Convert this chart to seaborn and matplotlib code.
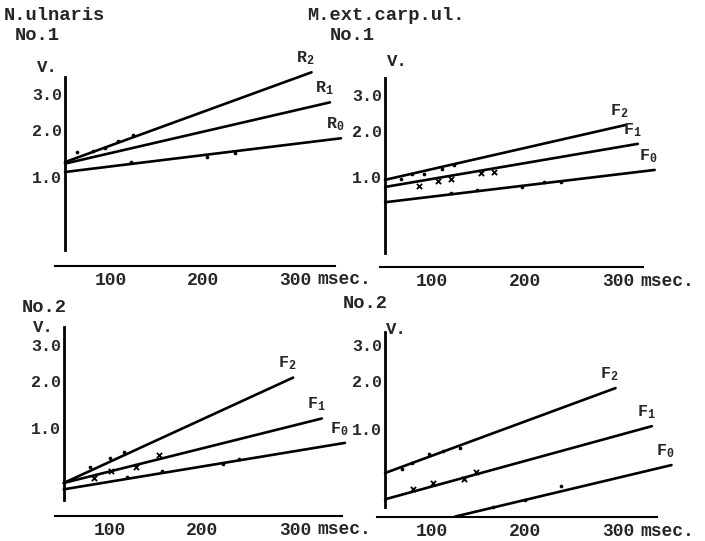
import numpy as np
import matplotlib
matplotlib.use("Agg")
import matplotlib.pyplot as plt
import seaborn as sns

# ---- data (msec, V) ----
# N.ulnaris No.1
ul1_labels = [r"R$_2$", r"R$_1$", r"R$_0$"]
ul1_line_t = [[50, 318], [50, 338], [50, 350]]
ul1_line_v = [[1.28, 3.70], [1.25, 2.75], [1.09, 1.80]]
ul1_pts_t = [63, 80, 93, 108, 124, 122, 204, 235]
ul1_pts_v = [1.50, 1.51, 1.58, 1.74, 1.88, 1.29, 1.39, 1.46]

# M.ext.carp.ul. No.1
ecu1_labels = [r"F$_2$", r"F$_1$", r"F$_0$"]
ecu1_line_t = [[50, 307], [50, 321], [50, 339]]
ecu1_line_v = [[0.95, 2.14], [0.83, 1.68], [0.60, 1.13]]
ecu1_f2_t = [67, 79, 92, 111, 124]
ecu1_f2_v = [0.96, 1.05, 1.05, 1.14, 1.23]
ecu1_f1_t = [86, 107, 121, 153, 167]
ecu1_f1_v = [0.85, 0.93, 0.97, 1.07, 1.10]
ecu1_f0_t = [121, 149, 197, 220, 239]
ecu1_f0_v = [0.73, 0.78, 0.83, 0.92, 0.91]

# N.ulnaris No.2
ul2_labels = [r"F$_2$", r"F$_1$", r"F$_0$"]
ul2_line_t = [[50, 298], [50, 329], [50, 354]]
ul2_line_v = [[0.27, 2.09], [0.27, 1.18], [0.215, 0.76]]
ul2_f2_t = [78, 100, 115]
ul2_f2_v = [0.43, 0.54, 0.62]
ul2_f1_t = [83, 101, 128, 153]
ul2_f1_v = [0.32, 0.39, 0.44, 0.585]
ul2_f0_t = [118, 156, 222, 239]
ul2_f0_v = [0.33, 0.39, 0.465, 0.53]

# M.ext.carp.ul. No.2
ecu2_labels = [r"F$_2$", r"F$_1$", r"F$_0$"]
ecu2_line_t = [[50, 297], [50, 336], [125, 357]]
ecu2_line_v = [[0.38, 1.84], [0.15, 1.05], [0.056, 0.47]]
ecu2_f2_t = [68, 79, 97, 112, 130]
ecu2_f2_v = [0.42, 0.50, 0.61, 0.66, 0.69]
ecu2_f1_t = [80, 101, 135, 148]
ecu2_f1_v = [0.23, 0.28, 0.32, 0.39]
ecu2_f0_t = [166, 200, 239]
ecu2_f0_v = [0.10, 0.146, 0.25]

x_ticks = [100, 200, 300]
y_ticks = [1, 2, 3]
y_ticklabels = ["1.0", "2.0", "3.0"]

# ---- style ----
sns.set_style("white")
plt.rcParams['font.family'] = ['Liberation Mono', 'DejaVu Sans']
plt.rcParams['font.weight'] = 'bold'
plt.rcParams['mathtext.default'] = 'regular'

W, H = 705, 541
fig = plt.figure(figsize=(W / 100, H / 100), dpi=100)
fig.patch.set_facecolor('white')

# pixel calibration of each hand-drawn panel (layout only)
layouts = [
    dict(x100=111, x300=295, y1=177, y3=94, xaxis=266, xl=55, xr=335, top=45, ytop=77, ybot=250),
    dict(x100=431.7, x300=618.3, y1=177, y3=95, xaxis=267, xl=380, xr=643, top=45, ytop=78, ybot=253),
    dict(x100=110, x300=295, y1=428.3, y3=345, xaxis=516, xl=55, xr=342, top=320, ytop=327, ybot=500),
    dict(x100=431.7, x300=618.3, y1=429, y3=345, xaxis=517, xl=377, xr=657, top=320, ytop=332, ybot=507),
]


def px2t(px, L):
    return 100 + (px - L['x100']) * 200 / (L['x300'] - L['x100'])


def px2v(py, L):
    k = (L['y1'] - L['y3']) / (np.sqrt(3) - 1)
    return (1 + (L['y1'] - py) / k) ** 2


def make_axes(L):
    ax = fig.add_axes([L['xl'] / W, 1 - L['xaxis'] / H,
                       (L['xr'] - L['xl']) / W, (L['xaxis'] - L['top']) / H])
    ax.set_yscale('function', functions=(np.sqrt, np.square))
    ax.set_xlim(px2t(L['xl'], L), px2t(L['xr'], L))
    ax.set_ylim(px2v(L['xaxis'], L), px2v(L['top'], L))
    ax.patch.set_alpha(0)
    for s in ['top', 'right']:
        ax.spines[s].set_visible(False)
    ax.spines['left'].set_position(('data', 50))
    ax.spines['left'].set_bounds(px2v(L['ybot'], L), px2v(L['ytop'], L))
    ax.spines['left'].set_linewidth(2.0)
    ax.spines['bottom'].set_linewidth(1.5)
    for s in ['left', 'bottom']:
        ax.spines[s].set_color('black')
    ax.set_xticks(x_ticks)
    ax.set_xticklabels([str(t) for t in x_ticks])
    ax.set_yticks(y_ticks)
    ax.set_yticklabels(y_ticklabels)
    ax.yaxis.set_minor_locator(matplotlib.ticker.NullLocator())
    ax.tick_params(axis='x', direction='in', length=3, width=1.5, pad=4, labelsize=13)
    ax.tick_params(axis='y', direction='in', length=4, width=1.5, pad=2, labelsize=12)
    ax.annotate('msec.', xy=(300, 0), xycoords=('data', 'axes fraction'),
                xytext=(22, -5.5), textcoords='offset pixels', ha='left', va='top',
                fontsize=13, fontweight='bold', annotation_clip=False)
    ax.grid(False)
    return ax


def draw_lines(ax, line_t, line_v, labels):
    for t, v, lab in zip(line_t, line_v, labels):
        sns.lineplot(x=t, y=v, ax=ax, color='black', linewidth=1.9, clip_on=False)
        ax.annotate(lab, xy=(t[1], v[1]), xytext=(-6, 14), textcoords='offset pixels',
                    ha='center', va='center', fontsize=12, fontweight='bold',
                    annotation_clip=False)


def dots(ax, t, v, marker='o'):
    if marker == 'x':
        sns.scatterplot(x=t, y=v, ax=ax, color='black', marker='x', s=14, linewidth=1.3)
    else:
        sns.scatterplot(x=t, y=v, ax=ax, color='black', marker='o', s=7, linewidth=0)


ax1 = make_axes(layouts[0])
draw_lines(ax1, ul1_line_t, ul1_line_v, ul1_labels)
dots(ax1, ul1_pts_t, ul1_pts_v)

ax2 = make_axes(layouts[1])
draw_lines(ax2, ecu1_line_t, ecu1_line_v, ecu1_labels)
dots(ax2, ecu1_f2_t, ecu1_f2_v)
dots(ax2, ecu1_f1_t, ecu1_f1_v, 'x')
dots(ax2, ecu1_f0_t, ecu1_f0_v)

ax3 = make_axes(layouts[2])
draw_lines(ax3, ul2_line_t, ul2_line_v, ul2_labels)
dots(ax3, ul2_f2_t, ul2_f2_v)
dots(ax3, ul2_f1_t, ul2_f1_v, 'x')
dots(ax3, ul2_f0_t, ul2_f0_v)

ax4 = make_axes(layouts[3])
draw_lines(ax4, ecu2_line_t, ecu2_line_v, ecu2_labels)
dots(ax4, ecu2_f2_t, ecu2_f2_v)
dots(ax4, ecu2_f1_t, ecu2_f1_v, 'x')
dots(ax4, ecu2_f0_t, ecu2_f0_v)


def ptext(x, y, s, size=13.5, ha='left'):
    fig.text(x / W, 1 - y / H, s, ha=ha, va='center', fontsize=size, fontweight='bold')


ptext(4, 15, "N.ulnaris")
ptext(15, 36, "No.1")
ptext(307, 15, "M.ext.carp.ul.")
ptext(330, 36, "No.1")
ptext(22, 307, "No.2")
ptext(343, 303, "No.2")
ptext(37, 68, "V.", 12.5)
ptext(387, 62, "V.", 12.5)
ptext(33, 328, "V.", 12.5)
ptext(386, 329, "V.", 12.5)

fig.savefig("out.png", dpi=100)
